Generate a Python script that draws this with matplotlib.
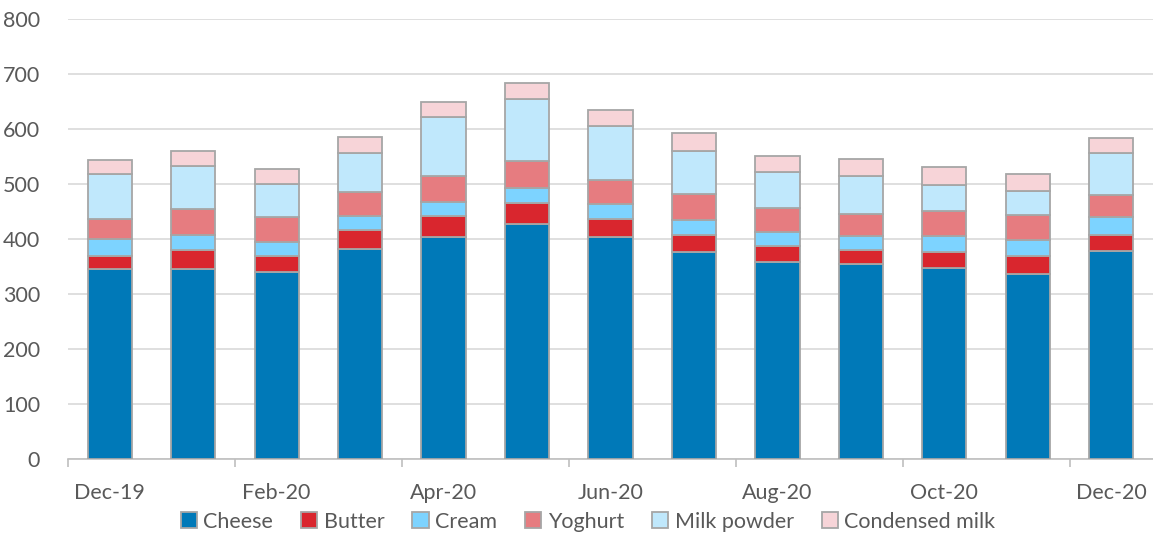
import matplotlib.pyplot as plt
import numpy as np

months = ["Dec-19", "Jan-20", "Feb-20", "Mar-20", "Apr-20", "May-20", "Jun-20",
          "Jul-20", "Aug-20", "Sep-20", "Oct-20", "Nov-20", "Dec-20"]

cheese = [345, 346, 340, 382, 404, 427, 404, 377, 359, 354, 347, 336, 379]
butter = [25, 34, 30, 34, 38, 39, 32, 30, 28, 26, 30, 33, 28]
cream = [30, 28, 25, 25, 26, 27, 27, 27, 25, 26, 28, 29, 33]
yoghurt = [36, 47, 45, 45, 46, 48, 45, 48, 45, 40, 46, 45, 40]
milk_powder = [82, 78, 60, 70, 107, 113, 97, 78, 64, 69, 47, 45, 76]
condensed = [25, 27, 27, 29, 28, 30, 29, 32, 30, 30, 33, 31, 28]

series = [
    ("Cheese", cheese, "#0079b8"),
    ("Butter", butter, "#d9262e"),
    ("Cream", cream, "#7dd3ff"),
    ("Yoghurt", yoghurt, "#e67c80"),
    ("Milk powder", milk_powder, "#c0e8fc"),
    ("Condensed milk", condensed, "#f7d4d8"),
]

plt.rcParams["font.family"] = ["Lato", "DejaVu Sans"]
text_col = "#595959"
fs = 15.5

fig = plt.figure(figsize=(11.53, 5.35), dpi=100)
ax = fig.add_axes([0.059, 0.142, 0.941, 0.8225])

x = np.arange(len(months))
bottom = np.zeros(len(months))
for name, vals, col in series:
    ax.bar(x, vals, width=0.53, bottom=bottom, color=col, edgecolor="#a6a6a6",
           linewidth=1.3, label=name, zorder=3)
    bottom += np.array(vals)

ax.set_xlim(-0.5, len(months) - 0.5)
ax.set_ylim(0, 800)
ax.set_yticks(range(0, 801, 100))
ax.grid(axis="y", color="#d9d9d9", linewidth=1.2, zorder=0)

for s in ["top", "right", "left"]:
    ax.spines[s].set_visible(False)
ax.spines["bottom"].set_color("#bfbfbf")
ax.spines["bottom"].set_linewidth(1.2)

# tick marks on boundaries, labels on every second month
ax.set_xticks(np.arange(-0.5, len(months), 2))
ax.set_xticklabels([])
ax.tick_params(axis="x", which="major", length=6, color="#bfbfbf", width=1.2)
ax.set_xticks(x[::2], minor=True)
ax.set_xticklabels(months[::2], minor=True)
ax.tick_params(axis="x", which="minor", length=0, pad=17, labelsize=fs, labelcolor=text_col)
ax.tick_params(axis="y", length=0, pad=20, labelsize=fs, labelcolor=text_col)

leg = fig.legend(loc="center", bbox_to_anchor=(0.51, 0.025), ncol=6, frameon=False,
                 fontsize=fs, handlelength=0.75, handleheight=0.75, handletextpad=0.3,
                 columnspacing=1.3, borderaxespad=0)
for t in leg.get_texts():
    t.set_color(text_col)

fig.savefig("out.png", dpi=100)
